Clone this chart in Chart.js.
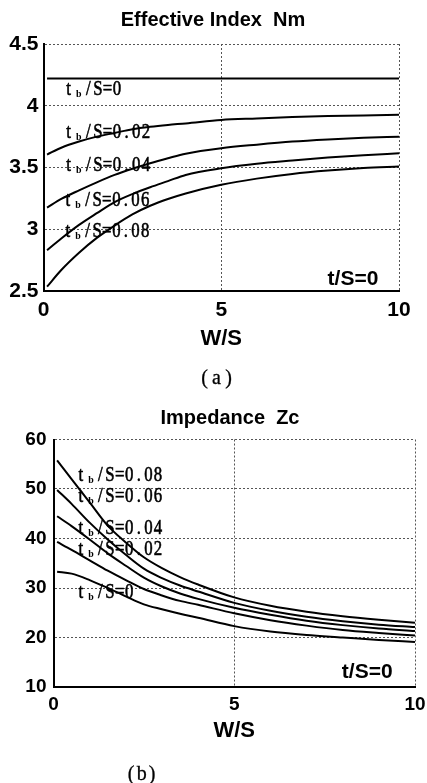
<!DOCTYPE html>
<html><head><meta charset="utf-8">
<script src="https://cdn.jsdelivr.net/npm/chart.js@4"></script>
<style>
html,body{margin:0;padding:0;background:#fff;}
#wrap{position:relative;width:427px;height:783px;overflow:hidden;background:#fff;}
canvas{position:absolute;left:0;}
</style></head><body>
<div id="wrap">
<canvas id="c1" width="427" height="390" style="top:0"></canvas>
<canvas id="c2" width="427" height="393" style="top:390px"></canvas>
</div>
<script>
// ---------- data ----------
const wsValues = [0.1, 0.5, 1, 1.5, 2, 2.5, 3, 3.5, 4, 5, 6, 7, 8, 9, 10];
const tbLabels = ['0', '0.02', '0.04', '0.06', '0.08'];

// Effective index Nm
const nmTb000 = [4.22, 4.22, 4.22, 4.22, 4.22, 4.22, 4.22, 4.22, 4.22, 4.22, 4.22, 4.22, 4.22, 4.22, 4.22];
const nmTb002 = [3.605, 3.66, 3.71, 3.75, 3.78, 3.81, 3.83, 3.845, 3.857, 3.885, 3.897, 3.908, 3.916, 3.922, 3.927];
const nmTb004 = [3.175, 3.245, 3.315, 3.38, 3.44, 3.49, 3.535, 3.575, 3.612, 3.656, 3.685, 3.71, 3.727, 3.74, 3.75];
const nmTb006 = [2.83, 2.925, 3.035, 3.13, 3.22, 3.285, 3.34, 3.39, 3.44, 3.494, 3.53, 3.556, 3.58, 3.60, 3.615];
const nmTb008 = [2.535, 2.67, 2.81, 2.93, 3.03, 3.12, 3.19, 3.245, 3.29, 3.36, 3.41, 3.448, 3.475, 3.495, 3.508];

// Impedance Zc
const zcTb000 = [33.3, 32.9, 31.6, 30.0, 28.3, 26.7, 25.7, 24.8, 24.0, 22.3, 21.2, 20.5, 20.0, 19.5, 19.1];
const zcTb002 = [39.3, 37.7, 35.6, 33.5, 31.6, 29.8, 28.5, 27.4, 26.6, 24.9, 23.5, 22.4, 21.5, 20.9, 20.4];
const zcTb004 = [44.5, 42.5, 39.8, 37.0, 34.5, 32.1, 30.3, 28.9, 27.8, 26.0, 24.6, 23.4, 22.5, 21.8, 21.3];
const zcTb006 = [49.8, 47.0, 43.2, 39.8, 36.7, 33.9, 32.0, 30.5, 29.3, 27.0, 25.4, 24.2, 23.3, 22.6, 22.1];
const zcTb008 = [55.8, 52.0, 47.3, 42.6, 39.2, 36.2, 34.0, 32.2, 30.7, 28.1, 26.4, 25.2, 24.3, 23.6, 23.0];

// axis ticks
const xTicks = [0, 5, 10];
const nmTicks = [2.5, 3, 3.5, 4, 4.5];
const zcTicks = [10, 20, 30, 40, 50, 60];

// curve label anchors (data coordinates: left edge x, baseline y)
const nmLabelX = [0.57, 0.57, 0.57, 0.55, 0.55];
const nmLabelY = [4.086, 3.74, 3.47, 3.19, 2.94];
const zcLabelX = [0.62, 0.62, 0.62, 0.62, 0.62];
const zcLabelY = [27.9, 36.7, 40.9, 47.4, 51.7];

// ---------- helpers ----------
function series(ys) { return ys.map((v, i) => ({ x: wsValues[i], y: v })); }

function drawNarrow(ctx, ch, cx, by, font, sx, stroke) {
  ctx.save();
  ctx.translate(cx, by);
  ctx.scale(sx, 1);
  ctx.font = font;
  ctx.textAlign = 'center';
  ctx.textBaseline = 'alphabetic';
  ctx.fillText(ch, 0, 0);
  if (stroke) { ctx.lineWidth = stroke; ctx.strokeStyle = '#000'; ctx.strokeText(ch, 0, 0); }
  ctx.restore();
}

function drawTbLabel(ctx, val, left, base) {
  const main = '21px "Liberation Serif", "DejaVu Serif", serif';
  drawNarrow(ctx, 't', left + 4.8, base, main, 0.8, 0.6);
  drawNarrow(ctx, 'b', left + 15, base + 2, 'bold 11px "Liberation Serif", serif', 0.9, 0);
  const rest = '/S=' + val;
  for (let i = 0; i < rest.length; i++) {
    drawNarrow(ctx, rest[i], left + 24.5 + 9.6 * i, base, main, 0.8, 0.6);
  }
}

function drawSpaced(ctx, txt, cx, base, pitch, font) {
  const n = txt.length;
  const start = cx - pitch * (n - 1) / 2;
  for (let i = 0; i < n; i++) drawNarrow(ctx, txt[i], start + pitch * i, base, font, 1, 0.3);
}

const annotPlugin = {
  id: 'annot',
  afterDraw(chart, args, o) {
    const { ctx, chartArea } = chart;
    const xs = chart.scales.x, ys = chart.scales.y;
    ctx.save();
    ctx.fillStyle = '#000';
    ctx.textBaseline = 'alphabetic';
    // title
    ctx.font = 'bold 20px "Liberation Sans", Arial, sans-serif';
    ctx.textAlign = 'center';
    ctx.fillText(o.title, o.titleX, o.titleY);
    // x axis title
    ctx.font = 'bold 22px "Liberation Sans", Arial, sans-serif';
    ctx.fillText('W/S', (chartArea.left + chartArea.right) / 2, o.axisY);
    // t/S=0 note
    ctx.font = 'bold 21px "Liberation Sans", Arial, sans-serif';
    ctx.textAlign = 'right';
    ctx.fillText('t/S=0', xs.getPixelForValue(o.noteX), ys.getPixelForValue(o.noteY));
    // curve labels
    for (let i = 0; i < tbLabels.length; i++) {
      drawTbLabel(ctx, tbLabels[i], xs.getPixelForValue(o.lx[i]), ys.getPixelForValue(o.ly[i]));
    }
    // caption
    drawSpaced(ctx, o.caption, o.capX, o.capY, o.capPitch, '20px "Liberation Serif", serif');
    ctx.restore();
  }
};

function makeChart(id, ys, yMin, yMax, yTicks, tickFont, geo, annot) {
  const datasets = ys.map((arr, i) => ({
    label: 't_b/S=' + tbLabels[i],
    data: series(arr),
    borderColor: '#000',
    borderWidth: 2,
    pointRadius: 0,
    fill: false,
    cubicInterpolationMode: 'monotone'
  }));
  const tickFontObj = { family: '"Liberation Sans", Arial, sans-serif', size: tickFont, weight: 'bold' };
  return new Chart(document.getElementById(id), {
    type: 'line',
    data: { datasets },
    options: {
      responsive: false,
      animation: false,
      layout: { padding: { top: geo.top, right: geo.right, bottom: 0, left: 0 } },
      plugins: { legend: { display: false }, tooltip: { enabled: false }, annot: annot },
      scales: {
        x: {
          type: 'linear', min: 0, max: 10,
          afterBuildTicks: s => { s.ticks = xTicks.map(v => ({ value: v })); },
          afterFit: s => { s.height = geo.xh; s.paddingRight = 0; s.paddingLeft = 0; },
          grid: { color: '#555', lineWidth: 1, drawTicks: false },
          border: { display: true, color: '#000', width: 2, dash: [2, 2] },
          ticks: { color: '#000', font: tickFontObj, padding: geo.xpad, maxRotation: 0, autoSkip: false,
                   callback: v => String(v) }
        },
        y: {
          type: 'linear', min: yMin, max: yMax,
          afterBuildTicks: s => { s.ticks = yTicks.map(v => ({ value: v })); },
          afterFit: s => { s.width = geo.yw; },
          grid: { color: '#555', lineWidth: 1, drawTicks: false },
          border: { display: true, color: '#000', width: 2, dash: [2, 2] },
          ticks: { color: '#000', font: tickFontObj, padding: geo.ypad, autoSkip: false,
                   callback: v => String(v) }
        }
      }
    },
    plugins: [annotPlugin]
  });
}

makeChart('c1', [nmTb000, nmTb002, nmTb004, nmTb006, nmTb008], 2.5, 4.5, nmTicks, 21,
  { top: 44, right: 28, xh: 99, yw: 43.5, xpad: 7, ypad: 5 },
  { title: 'Effective Index  Nm', titleX: 213, titleY: 25.5, axisY: 345,
    noteX: 9.42, noteY: 2.55, lx: nmLabelX, ly: nmLabelY,
    caption: '(a)', capX: 216.5, capY: 383.5, capPitch: 12 });

makeChart('c2', [zcTb000, zcTb002, zcTb004, zcTb006, zcTb008], 10, 60, zcTicks, 19,
  { top: 49.5, right: 12, xh: 96, yw: 53.5, xpad: 6, ypad: 7 },
  { title: 'Impedance  Zc', titleX: 230, titleY: 33.5, axisY: 347,
    noteX: 9.38, noteY: 11.8, lx: zcLabelX, ly: zcLabelY,
    caption: '(b)', capX: 141.7, capY: 389.5, capPitch: 10.5 });
</script>
</body></html>
